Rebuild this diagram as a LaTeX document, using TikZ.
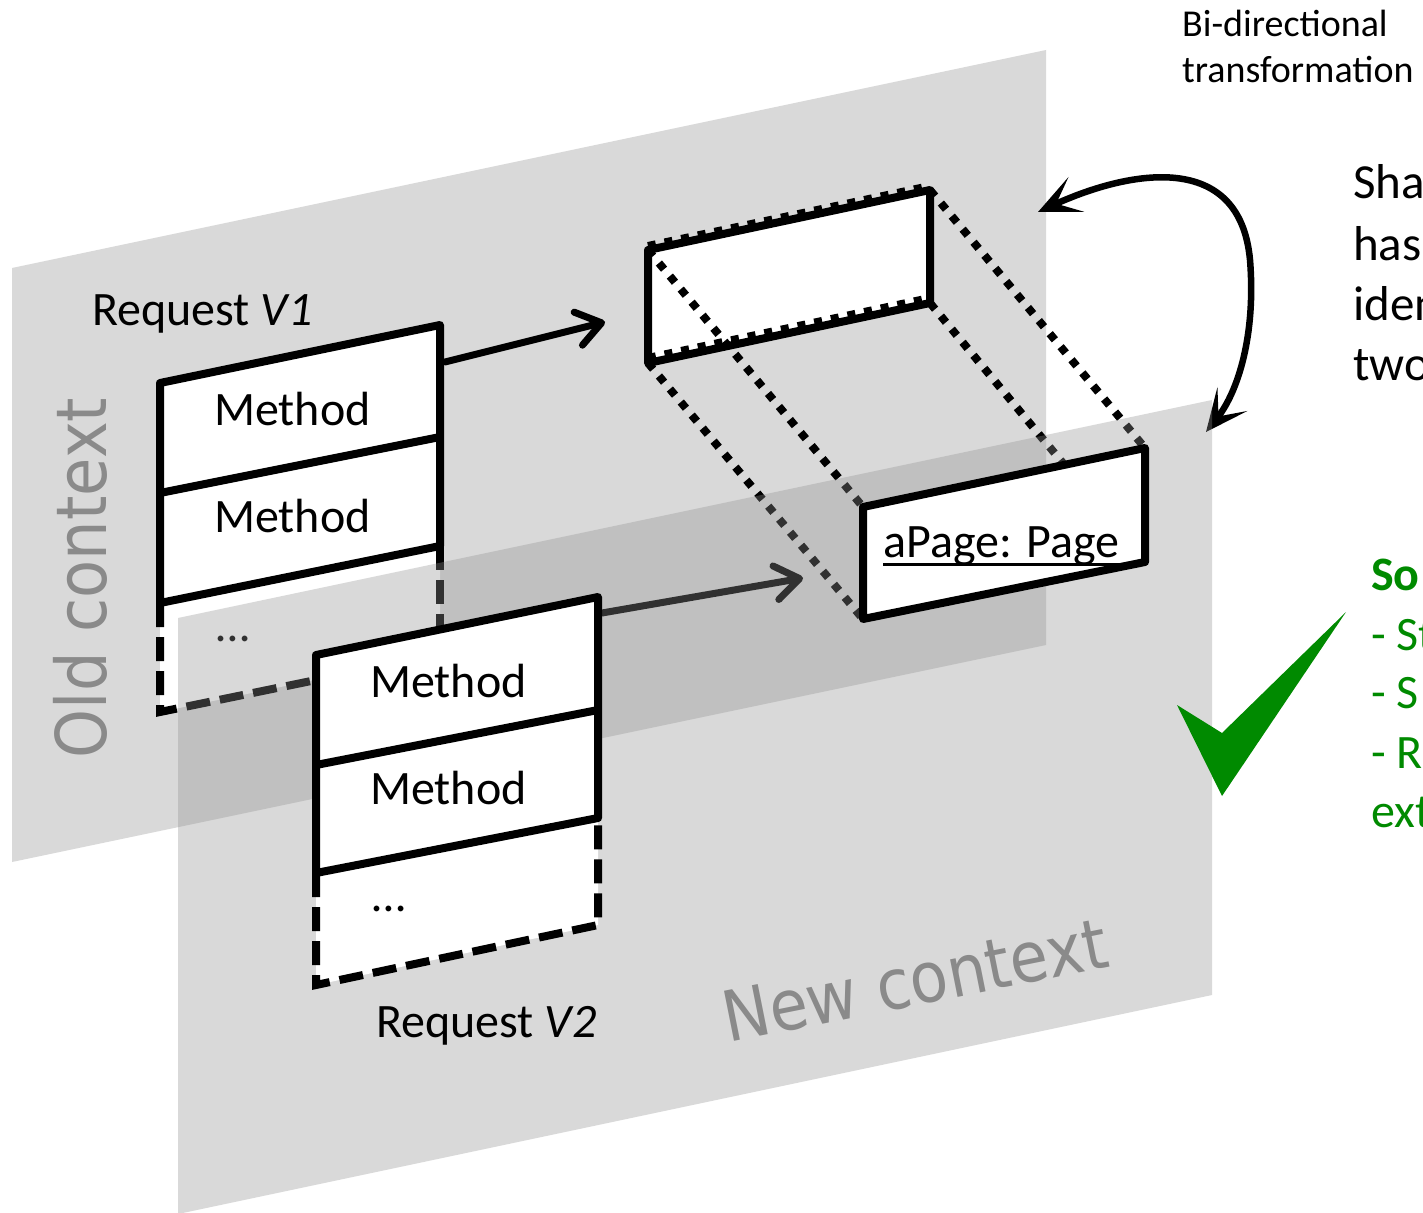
\documentclass[tikz,border=0pt]{standalone}
\usepackage{fontspec}
\setmainfont{Carlito}
\newfontfamily\ctxfont[FakeStretch=0.89]{DejaVu Sans}
\usetikzlibrary{arrows.meta}
\definecolor{planegray}{RGB}{217,217,217}
\definecolor{planeveil}{RGB}{144,144,144}
\definecolor{ctxgray}{RGB}{138,138,138}
\definecolor{okgreen}{RGB}{0,138,0}
\tikzset{
  boxline/.style={line width=8pt, line join=round},
  dashline/.style={line width=8pt, dash pattern=on 24pt off 10pt},
  dotline/.style={line width=8pt, dash pattern=on 8pt off 9pt},
  flowarrow/.style={line width=7pt, line cap=round,
    -{Straight Barb[length=24pt,width=34pt,round]}},
  bendarrow/.style={line width=6.5pt,
    {Stealth[length=42pt,width=38pt,inset=22pt]}-{Stealth[length=42pt,width=38pt,inset=22pt]}},
  lbl/.style={inner sep=0pt, anchor=base west, font=\fontsize{48}{58}\selectfont},
  smalllbl/.style={inner sep=0pt, anchor=base west, font=\fontsize{38}{46}\selectfont},
  notelbl/.style={inner sep=0pt, anchor=base west, font=\fontsize{49}{60}\selectfont},
  greenlbl/.style={inner sep=0pt, anchor=base west, text=okgreen, font=\fontsize{48}{58}\selectfont},
  ctxlbl/.style={inner sep=0pt, text=ctxgray, font=\ctxfont\fontsize{70}{84}\selectfont},
}
\begin{document}
\begin{tikzpicture}[x=1pt,y=-1pt]
\useasboundingbox (0,0) rectangle (1423,1212);
\clip (0,0) rectangle (1423,1212);
\fill[white] (0,0) rectangle (1423,1212);

% ---- old context plane ----
\coordinate (op1) at (12,268);
\coordinate (op2) at (1046,50);
\coordinate (op3) at (1046,645);
\coordinate (op4) at (12,862);
\fill[planegray] (op1) -- (op2) -- (op3) -- (op4) -- cycle;
\node[ctxlbl, rotate=90] (oldctx) at (80,578) {Old context};

% ---- request V1 ----
\coordinate (a1) at (160,383);
\coordinate (b1) at (440,325);
\coordinate (a2) at (160,493);
\coordinate (b2) at (440,437);
\coordinate (a3) at (160,603);
\coordinate (b3) at (440,546);
\coordinate (a4) at (160,712);
\coordinate (b4) at (440,654);
\coordinate (b3end) at (440,629);
\coordinate (a4end) at (316,680);
\fill[white] (a1) -- (b1) -- (b4) -- (a4) -- cycle;
\draw[boxline] (a3) -- (a1) -- (b1) -- (b3) -- cycle;
\draw[boxline] (a2) -- (b2);
\draw[dashline] (a3) -- (a4) -- (a4end);
\draw[dashline] (b3) -- (b3end);
\node[lbl] (req1) at (92,325) {Request \textit{V1}};
\node[lbl] (m11) at (214,425) {Method};
\node[lbl] (m12) at (214,532) {Method};
\node[lbl] (dots1) at (216,641) {…};

% ---- shared object (old context) ----
\coordinate (s1) at (648,250);
\coordinate (s2) at (930,190);
\coordinate (s3) at (930,303);
\coordinate (s4) at (648,363);
\filldraw[boxline, fill=white] (s1) -- (s2) -- (s3) -- (s4) -- cycle;

% ---- shared object (new context) corners ----
\coordinate (p1) at (863,507);
\coordinate (p2) at (1145,448);
\coordinate (p3) at (1145,562);
\coordinate (p4) at (863,619);

% projection edges
\draw[dotline] (s1) -- (p1);
\draw[dotline] (s2) -- (p2);
\draw[dotline] (s3) -- (p3);
\draw[dotline] (s4) -- (p4);
\draw[dotline] ([yshift=4pt]s1) -- ([yshift=4pt]s2);
\draw[dotline] ([yshift=5pt]s4) -- ([yshift=5pt]s3);

% connectors
\coordinate (v1out) at (445,362);
\coordinate (sharedin) at (605,322);
\draw[flowarrow] (v1out) -- (sharedin);
\coordinate (v2out) at (602,613);
\coordinate (pagein) at (803,578);
\draw[flowarrow] (v2out) -- (pagein);
\coordinate (bendA) at (1038,212);
\coordinate (bendB) at (1206,432);
\draw[bendarrow] (bendA) .. controls (1130,170) and (1240,150) .. (1250,260)
  .. controls (1256,335) and (1238,392) .. (bendB);

% ---- new context plane ----
\coordinate (np1) at (178,618);
\coordinate (np2) at (1212,400);
\coordinate (np3) at (1212,995);
\coordinate (np4) at (178,1214);
\fill[planeveil, opacity=0.342] (np1) -- (np2) -- (np3) -- (np4) -- cycle;
\node[ctxlbl, rotate=11.3] (newctx) at (915,980) {New context};

% ---- request V2 ----
\coordinate (c1) at (316,655);
\coordinate (d1) at (598,597);
\coordinate (c2) at (316,765);
\coordinate (d2) at (598,710);
\coordinate (c3) at (316,873);
\coordinate (d3) at (598,818);
\coordinate (c4) at (316,985);
\coordinate (d4) at (598,925);
\fill[white] (c1) -- (d1) -- (d4) -- (c4) -- cycle;
\draw[boxline] (c3) -- (c1) -- (d1) -- (d3) -- cycle;
\draw[boxline] (c2) -- (d2);
\draw[dashline] (c3) -- (c4) -- (d4) -- (d3);
\node[lbl] (m21) at (370,697) {Method};
\node[lbl] (m22) at (370,804) {Method};
\node[lbl] (dots2) at (372,911) {…};
\node[lbl] (req2) at (376,1037) {Request \textit{V2}};

% ---- aPage object ----
\filldraw[boxline, fill=white] (p1) -- (p2) -- (p3) -- (p4) -- cycle;
\node[lbl] (apage) at (883,557) {aPage: Page};
\draw[line width=3pt] ([yshift=-7pt]apage.base west) -- ([yshift=-7pt]apage.base east);

% ---- notes on the right ----
\node[smalllbl] (bi1) at (1182,37) {Bi-directional};
\node[smalllbl] (bi2) at (1182,83) {transformation};
\node[notelbl] (n1) at (1353,198) {Sha};
\node[notelbl] (n2) at (1353,260) {has};
\node[notelbl] (n3) at (1353,320) {iden};
\node[notelbl] (n4) at (1353,380) {two};
\node[greenlbl] (g1) at (1371,590) {\bfseries So};
\node[greenlbl] (g2) at (1371,650) {- St};
\node[greenlbl] (g3) at (1371,708) {- S};
\node[greenlbl] (g4) at (1371,768) {- R};
\node[greenlbl] (g5) at (1371,827) {ext};

% check mark
\fill[okgreen] (1177,705) -- (1222,733) -- (1346,612) -- (1222,796) -- cycle;
\end{tikzpicture}
\end{document}
